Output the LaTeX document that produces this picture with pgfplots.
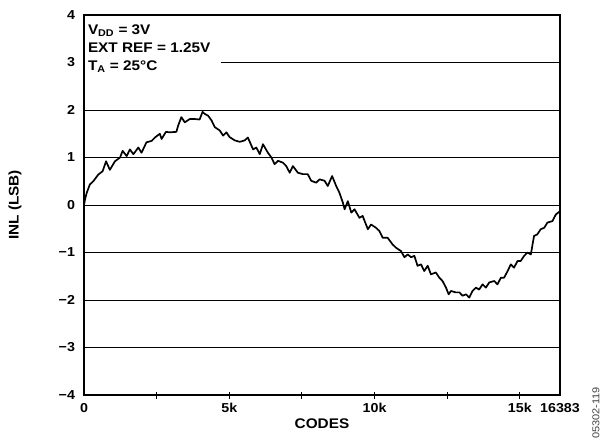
\documentclass[border=0pt]{standalone}
\usepackage{pgfplots}
\pgfplotsset{compat=1.18}
\usepackage{fontspec}
\setmainfont[FakeStretch=1.1]{Liberation Sans}
\begin{document}
\begin{tikzpicture}
\useasboundingbox (-84bp,-49bp) rectangle (520bp,395bp);
\begin{axis}[
  scale only axis,
  width=476bp, height=380bp,
  xmin=0, xmax=16383, ymin=-4, ymax=4,
  scaled x ticks=false,
  axis line style={line width=1.4pt},
  xtick={2500,5000,7500,10000,12500,15000},
  xticklabels={,5k,,10k,,15k},
  extra x ticks={0,16383},
  extra x tick labels={0,16383},
  extra x tick style={major tick style={draw=none}},
  xtick pos=bottom,
  tick align=center,
  major tick length=7bp,
  x tick style={line width=0.9pt, black},
  ytick={-4,-3,-2,-1,0,1,2,3,4},
  yticklabels={−4,−3,−2,−1,0,1,2,3,4},
  y tick style={draw=none},
  ytick pos=left,
  ticklabel style={font=\fontsize{13}{15}\selectfont\bfseries},
  yticklabel style={xshift=-2bp},
  xticklabel style={yshift=-1bp},
  /pgf/number format/assume math mode=true,
  xlabel={CODES},
  ylabel={INL (LSB)},
  label style={font=\fontsize{14}{16}\selectfont\bfseries},
  xlabel style={at={(axis description cs:0.5,-0.076)}, anchor=center},
  ylabel style={at={(axis description cs:-0.145,0.5)}, anchor=center},
  clip=false,
]
\foreach \yy in {-3,-2,-1,0,1,2} {
  \edef\temp{\noexpand\draw[line width=0.8pt] (axis cs:0,\yy) -- (axis cs:16383,\yy);}
  \temp
}
\draw[line width=0.8pt] (axis cs:4700,3) -- (axis cs:16383,3);
\addplot[black, line width=1.7pt, line join=round] coordinates {
(0,0.0) (30,0.10) (90,0.25) (200,0.43) (320,0.50) (490,0.64) (640,0.71) (760,0.92) (890,0.74)
(1065,0.92) (1240,1.0) (1330,1.14) (1470,1.03) (1580,1.17) (1700,1.07) (1870,1.21) (1980,1.1)
(2150,1.32) (2330,1.35) (2440,1.42) (2610,1.5) (2670,1.39) (2820,1.54) (2950,1.53) (3180,1.54)
(3240,1.67) (3350,1.85) (3470,1.74) (3640,1.81) (3810,1.81) (3980,1.8) (4080,1.96) (4150,1.92)
(4270,1.88) (4390,1.78) (4500,1.64) (4670,1.57) (4790,1.46) (4900,1.53) (5010,1.43) (5190,1.36)
(5360,1.33) (5530,1.36) (5640,1.42) (5820,1.17) (5930,1.21) (6050,1.07) (6160,1.28) (6330,1.10)
(6450,1.0) (6560,0.86) (6680,0.93) (6850,0.89) (6960,0.82) (7080,0.68) (7190,0.82) (7360,0.68)
(7530,0.65) (7700,0.65) (7820,0.51) (7990,0.47) (8110,0.54) (8280,0.51) (8390,0.40) (8540,0.61)
(8680,0.40) (8790,0.26) (8910,0.05) (8970,-0.09) (9080,0.08) (9200,-0.16) (9310,-0.09) (9480,-0.27)
(9590,-0.23) (9770,-0.51) (9880,-0.41) (10050,-0.48) (10170,-0.55) (10280,-0.69) (10450,-0.69)
(10620,-0.83) (10740,-0.9) (10910,-0.97) (11030,-1.1) (11140,-1.04) (11260,-1.1) (11370,-1.07)
(11480,-1.28) (11600,-1.25) (11710,-1.39) (11830,-1.28) (11940,-1.46) (12110,-1.42) (12230,-1.53)
(12340,-1.6) (12460,-1.74) (12550,-1.88) (12630,-1.81) (12800,-1.84) (12920,-1.84) (13030,-1.91)
(13150,-1.88) (13260,-1.95) (13370,-1.81) (13490,-1.74) (13600,-1.78) (13720,-1.67) (13830,-1.74)
(13950,-1.63) (14120,-1.6) (14230,-1.67) (14350,-1.53) (14460,-1.53) (14580,-1.39) (14690,-1.25)
(14800,-1.32) (14920,-1.18) (15030,-1.18) (15150,-1.07) (15260,-1.0) (15380,-1.04) (15430,-0.86)
(15490,-0.65) (15600,-0.62) (15720,-0.51) (15840,-0.48) (15950,-0.37) (16120,-0.34) (16240,-0.2)
(16383,-0.13)
};
\node[anchor=north west, align=left, font=\fontsize{14}{18}\selectfont\bfseries, inner sep=0pt]
  at (rel axis cs:0.008,0.975) {V\textsubscript{DD} = 3V\\EXT REF = 1.25V\\T\textsubscript{A} = 25°C};
\node[rotate=90, anchor=center, font=\fontsize{10}{11}\selectfont, text=black!75]
  at (rel axis cs:1.0755,-0.047) {05302-119};
\end{axis}
\end{tikzpicture}
\end{document}
